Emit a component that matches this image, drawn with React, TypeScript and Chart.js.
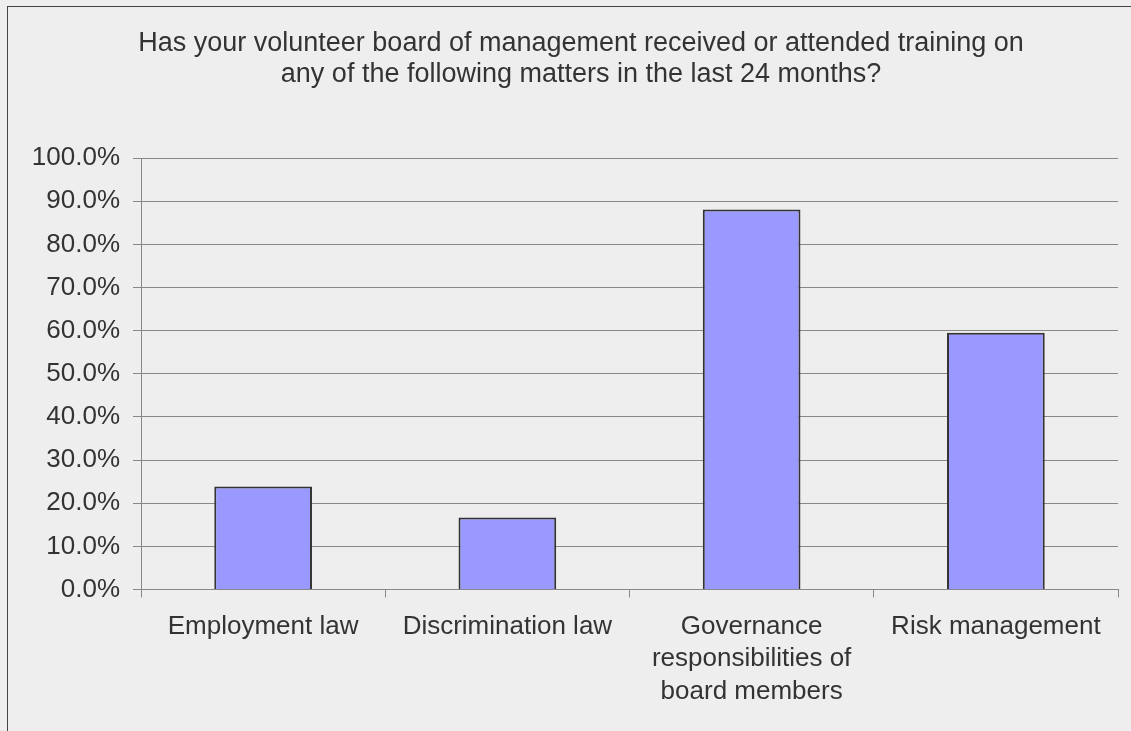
import React, { useEffect, useRef } from "react";
import { Chart, registerables } from "chart.js";

Chart.register(...registerables);

const titleLines = [
  "Has your volunteer board of management received or attended training on",
  "any of the following matters in the last 24 months?",
];
const categories: string[][] = [
  ["Employment law"],
  ["Discrimination law"],
  ["Governance", "responsibilities of", "board members"],
  ["Risk management"],
];
const values = [23.9, 16.7, 88.1, 59.5];
const yMin = 0;
const yMax = 100;
const yStep = 10;

const FONT = "'Liberation Sans', Arial, sans-serif";

const titleShift = {
  id: "titleShift",
  afterLayout(chart: any) {
    const t = chart.titleBlock;
    if (t) {
      t.left += 18;
      t.right += 18;
    }
  },
};

export default function App() {
  const ref = useRef<HTMLCanvasElement>(null);
  useEffect(() => {
    if (!ref.current) return;
    const chart = new Chart(ref.current, {
      type: "bar",
      data: {
        labels: categories,
        datasets: [
          {
            data: values,
            backgroundColor: "#9999ff",
            borderColor: "#333333",
            borderWidth: 2,
            barPercentage: 0.4,
            categoryPercentage: 1,
          },
        ],
      },
      plugins: [titleShift],
      options: {
        responsive: false,
        animation: false,
        layout: { padding: { left: 0, right: 38, top: 0, bottom: 10 } },
        plugins: {
          legend: { display: false },
          tooltip: { enabled: false },
          title: {
            display: true,
            text: titleLines,
            color: "#333333",
            font: { family: FONT, size: 27, weight: "normal", lineHeight: 1.15 },
            padding: { top: 21, bottom: 68 },
          },
        },
        scales: {
          x: {
            offset: true,
            grid: {
              offset: true,
              drawOnChartArea: false,
              drawTicks: true,
              tickLength: 8,
              color: "#888888",
            },
            border: { display: true, color: "#888888", width: 1 },
            ticks: {
              color: "#333333",
              font: { family: FONT, size: 26, lineHeight: 1.25 },
              padding: 13,
              maxRotation: 0,
              minRotation: 0,
              autoSkip: false,
            },
          },
          y: {
            min: yMin,
            max: yMax,
            afterFit: (scale: any) => {
              scale.width = 133;
            },
            grid: {
              color: "#888888",
              tickLength: 8,
              drawTicks: true,
            },
            border: { display: true, color: "#888888", width: 1 },
            ticks: {
              stepSize: yStep,
              color: "#333333",
              font: { family: FONT, size: 26 },
              padding: 13,
              callback: (v: any) => Number(v).toFixed(1) + "%",
            },
          },
        },
      },
    });
    return () => chart.destroy();
  }, []);

  return (
    <div
      style={{
        position: "fixed",
        left: 0,
        top: 0,
        width: 1131,
        height: 731,
        overflow: "hidden",
        background: "#eeeeee",
      }}
    >
      <div
        style={{
          position: "absolute",
          left: 7,
          top: 6,
          width: 1160,
          height: 740,
          borderLeft: "1px solid #444444",
          borderTop: "1px solid #444444",
          background: "#eeeeee",
        }}
      >
        <canvas
          ref={ref}
          width={1148}
          height={724}
          style={{ position: "absolute", left: 0, top: 0, width: 1148, height: 724 }}
        />
      </div>
    </div>
  );
}
